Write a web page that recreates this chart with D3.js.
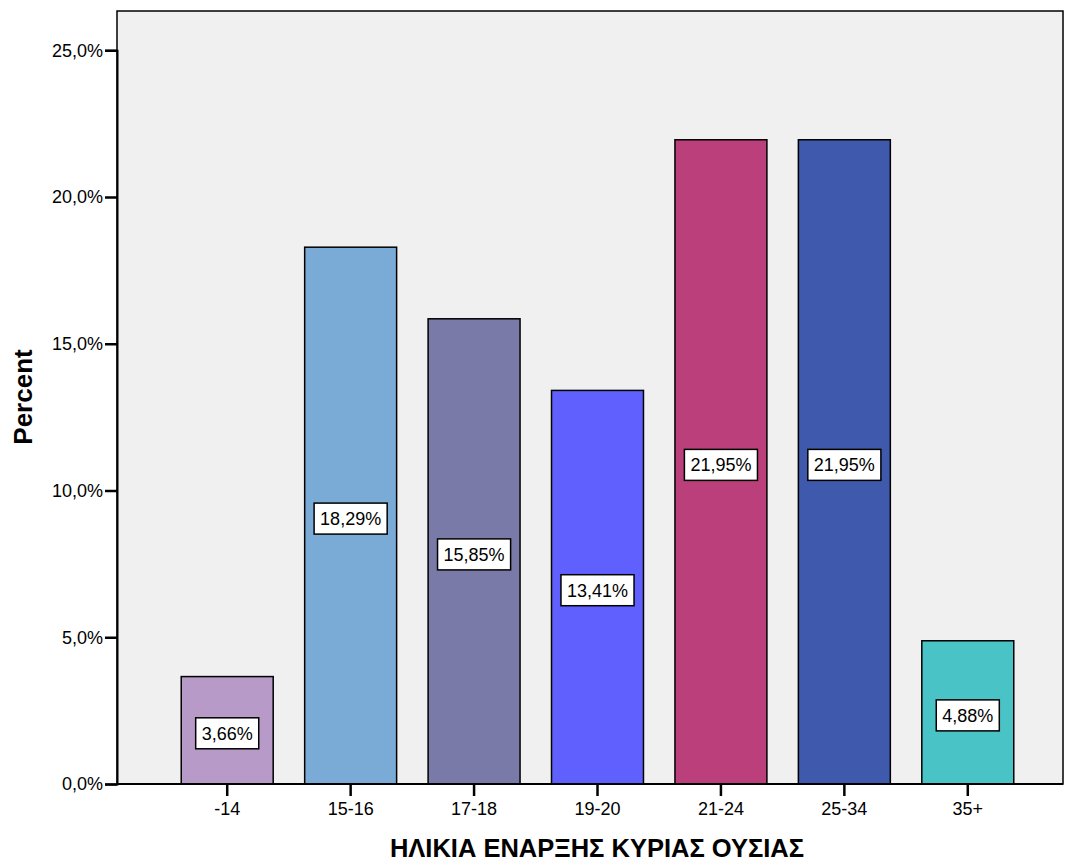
<!DOCTYPE html>
<html><head><meta charset="utf-8">
<script src="https://cdn.jsdelivr.net/npm/d3@7"></script>
<style>body{margin:0;background:#fff}</style>
</head><body>
<script>
const categories = ["-14","15-16","17-18","19-20","21-24","25-34","35+"];
const values = [3.66, 18.29, 15.85, 13.41, 21.95, 21.95, 4.88];
const labels = ["3,66%","18,29%","15,85%","13,41%","21,95%","21,95%","4,88%"];
const colors = ["#b89ac8","#7aaad6","#7a7aa8","#5f60fe","#bb3f7a","#3f5aac","#4ac3c6"];
const yTicks = [0,5,10,15,20,25];
const xTitle = "ΗΛΙΚΙΑ ΕΝΑΡΞΗΣ ΚΥΡΙΑΣ ΟΥΣΙΑΣ";
const yTitle = "Percent";

const W = 1067, H = 863;
const L = 117, R = 1063, T = 11, B = 784;
const FONT = "Arial, 'Liberation Sans', sans-serif";
const svg = d3.select("body").append("svg").attr("width",W).attr("height",H)
  .style("font-family",FONT);

const y = d3.scaleLinear().domain([0,25]).range([B, 50.25]);
const x = d3.scaleBand().domain(categories).range([165.5, 1029.5]).paddingInner(0.255).paddingOuter(0.1275);

svg.append("rect").attr("x",L).attr("y",T).attr("width",R-L).attr("height",B-T)
  .attr("fill","#f0f0f0").attr("stroke","#000").attr("stroke-width",1.5);

svg.selectAll("rect.bar").data(values).enter().append("rect").attr("class","bar")
  .attr("x",(d,i)=>x(categories[i])).attr("width",x.bandwidth())
  .attr("y",d=>y(d)).attr("height",d=>B-y(d))
  .attr("fill",(d,i)=>colors[i]).attr("stroke","#000").attr("stroke-width",1.5);

// y axis
const yAxis = svg.append("g").attr("transform",`translate(${L},0)`)
  .call(d3.axisLeft(y).tickValues(yTicks).tickSize(12).tickPadding(2)
    .tickFormat(d=>d.toFixed(1).replace(".",",")+"%"));
yAxis.select(".domain").attr("stroke","#000").attr("stroke-width",2);
yAxis.selectAll(".tick line").attr("stroke","#000").attr("stroke-width",2.5);
yAxis.selectAll("text").attr("font-size",18).attr("fill","#000").attr("font-family",FONT);

// x axis
const xAxis = svg.append("g").attr("transform",`translate(0,${B})`)
  .call(d3.axisBottom(x).tickSize(12).tickPadding(6).tickSizeOuter(0));
xAxis.select(".domain").attr("d",`M${L},0H${R}`).attr("stroke","#000").attr("stroke-width",2);
xAxis.selectAll(".tick line").attr("stroke","#000").attr("stroke-width",2.5);
xAxis.selectAll("text").attr("font-size",18).attr("fill","#000").attr("font-family",FONT);

// value labels
const lg = svg.selectAll("g.lbl").data(values).enter().append("g").attr("class","lbl")
  .attr("transform",(d,i)=>`translate(${x(categories[i])+x.bandwidth()/2},${y(d/2)+3})`);
lg.each(function(d,i){
  const g = d3.select(this);
  const t = g.append("text").text(labels[i]).attr("text-anchor","middle").attr("dy","0.35em")
    .attr("font-size",18).attr("fill","#000");
  const bb = t.node().getBBox();
  g.insert("rect","text").attr("x",bb.x-6).attr("y",-15.5).attr("width",bb.width+12).attr("height",31)
    .attr("fill","#fff").attr("stroke","#000").attr("stroke-width",1.5);
});

svg.append("text").attr("x",597).attr("y",857).attr("text-anchor","middle")
  .attr("font-size",25.5).attr("font-weight","bold").text(xTitle);
svg.append("text").attr("transform","translate(32,397) rotate(-90)").attr("text-anchor","middle")
  .attr("font-size",26).attr("font-weight","bold").text(yTitle);
</script>
</body></html>
